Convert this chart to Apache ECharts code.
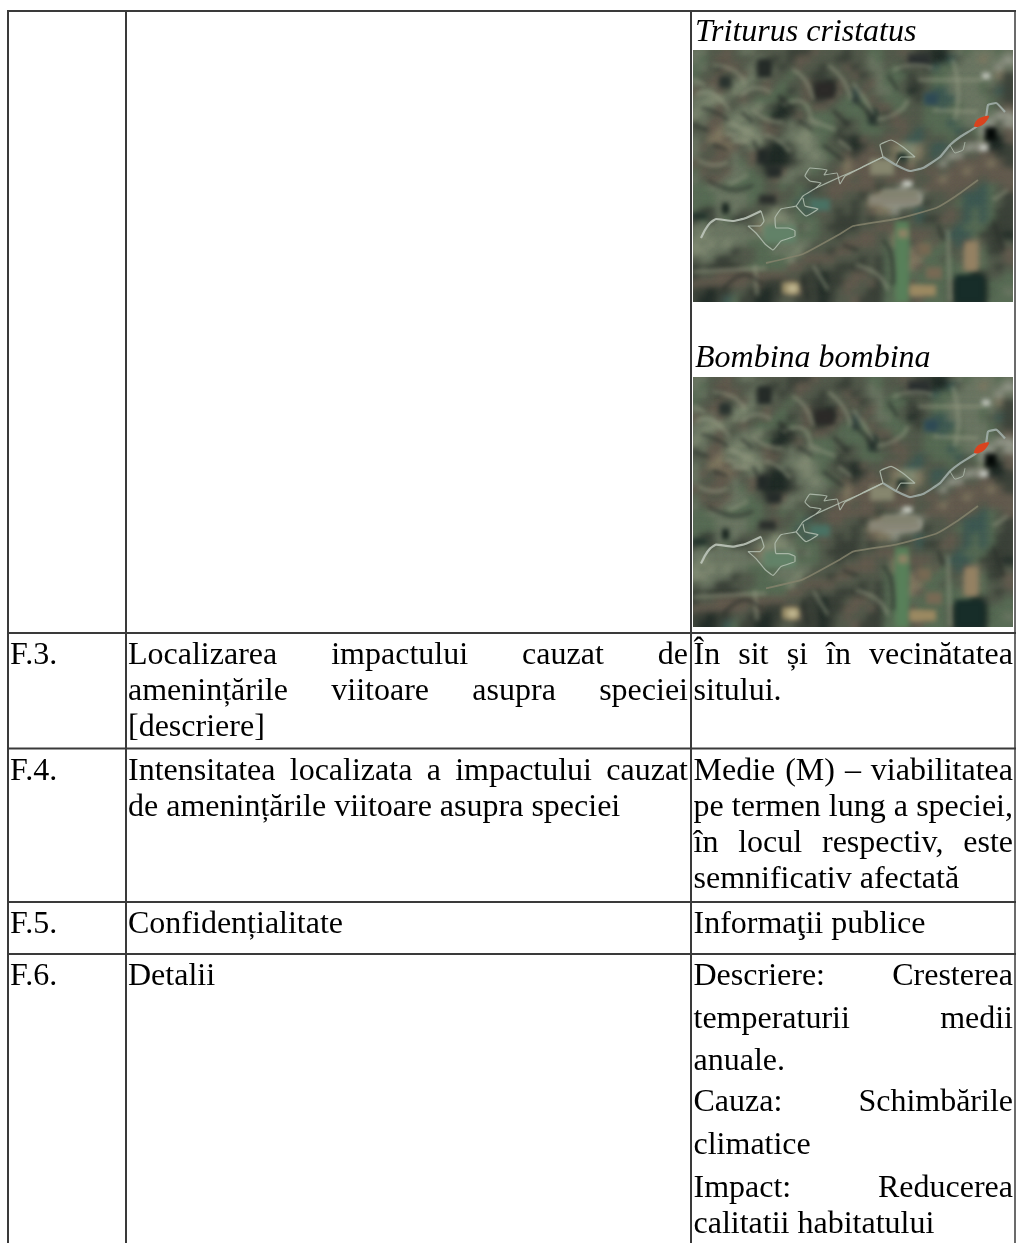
<!DOCTYPE html>
<html><head><meta charset="utf-8">
<style>html,body{margin:0;padding:0;background:#fff}#c{width:1016px;height:1243px}</style>
<script src="https://cdn.jsdelivr.net/npm/echarts@6/dist/echarts.min.js"></script>
</head><body><div id="c"></div>
<script>
// ---- table content: [text, justified?, baseline] ----
const col1Lines = [["F.3.",666],["F.4.",782],["F.5.",935],["F.6.",987]];
const col2Lines = [
 ["Localizarea impactului cauzat de",1,666],
 ["amenințările viitoare asupra speciei",1,702.5],
 ["[descriere]",0,738],
 ["Intensitatea localizata a impactului cauzat",1,782],
 ["de amenințările viitoare asupra speciei",0,818],
 ["Confidențialitate",0,935],
 ["Detalii",0,987]
];
const col3Lines = [
 ["În sit și în vecinătatea",1,666],
 ["sitului.",0,702.5],
 ["Medie (M) – viabilitatea",1,782],
 ["pe termen lung a speciei,",1,818],
 ["în locul respectiv, este",1,854],
 ["semnificativ afectată",0,890],
 ["Informaţii publice",0,935],
 ["Descriere: Cresterea",1,987],
 ["temperaturii medii",1,1030],
 ["anuale.",0,1072],
 ["Cauza: Schimbările",1,1113],
 ["climatice",0,1156],
 ["Impact: Reducerea",1,1199],
 ["calitatii habitatului",0,1235]
];
const speciesLabels = [["Triturus cristatus",43],["Bombina bombina",369]];
const rowLines = [11,633,748.5,902,954];
const colLines = [8,126,691,1015];

// ---- satellite picture read by eye: one letter per 8x8 px patch ----
const palette = {k:"#202b27",d:"#3b4139",m:"#545b4d",g:"#596d56",h:"#6d7865",l:"#858f77",t:"#847b64",b:"#655c50",s:"#3e5a54",w:"#989b8e"};
const photoRows = [
"hhmmbmhhmmmmdddbmmmdmmggmmbmddkkmhghhhgh",
"hgmbbmmmhmdmdbbmmmddmmhgmmmbddkksmhhthhw",
"ghmdbbmhmmmdmbmmdmmbdmhhmgdmmdsgghhhhhwh",
"gmmbmmbhhlmmgmmddmmmbdmhgggdmmgghhhhhhtd",
"hmbbmhlhmbmgmmbddkbmmmbhggmddmgghhhhghmd",
"bhhbmlhmmbggdmbdkkbmmbmhhgmkdmsshhhhgmsd",
"hhllhmbmgggdgmbddbmgggbmgggmdgssshhhhgmd",
"hlhbmmhhlmdkdmgbbmggggmbbggmmggsgghhhgmb",
"lhmbhhlhmgkkdbmgggmgggmmdbmmmgggghhhhhww",
"mhbbhlhhmbdmhmhhggmdmggmmbbmmgggsghhwwmw",
"mmbthhllhbbmhhlgggdmmgggmmbmsmgggsmgwwmb",
"hmttbhlllmdhhllhgmddkbmmbbmssmmmgmmmlkkb",
"hbmbtbmhhdkkmhlhgmmdkdbmmtlltmssmmwwbkkd",
"hmmbbhmbbkkkdhhlhgmbdbbbmtlltmsmwwmmbbdd",
"bmbbmhgbmkkkdmhhhmmtbbbbmbdtmmmwmbbbbtbd",
"gbmmbhhgmddbhhhgmmbtbbbbmbbbmbbmbbtbbbbb",
"hmbbhhgggmbhhmmmmmbbmbbmbbbbmmbtbbbbmbbb",
"gghhgggggmmgmgmdmbbbbbbdmmwmmbbbbbbmsgmb",
"ggghhhhggmbmmgsmmbbmmdmtwwwwwmmmbmsssgmd",
"ggghhhhgmmmmgsgmmmmmdmttwwwwmdmmmgsssgmd",
"gddhhhmmmmlhmgsmbmdmdmbttwmmsmmmbmsgsgdd",
"dgdhgddmhlllhgggmmdddmdmmmdmsddbbmsgsgdd",
"hhhhhhhmtlhhlmhgmddddmmbbbbmmmmmmsgggddd",
"hlhhhhhhhlhlhgggmmdmmbbmmtbbbbmmsssgdddk",
"lhlhlhhgggghhhhmmmmbbbbmgtgmbgbgmsbtmddm",
"llhhhdmmgghhhlmmmdbbmmmmgggtbgggmmttgddb",
"mhhddmmmgggglmbbbbmmmdmdggbttggmgmttgmmb",
"dmddddmgggggbbmdmmddddmdggttbgggggttgmdm",
"dmmbbbbbbbbbmmddkddmbbmdgggggggggggkdmmg",
"bbbbbbbmbdddbdddkddbbmbdgggbggggmkkkkggg",
"ddkddmmddkddtbddkdmbmmddggtttbggmkkkkggh",
"dkkdsgddkkdmmdddkdmmbdddggbmbgggmkkkkggg"
];
// soft patches in picture pixels: x, y, w, h, colour
const patches = [
 [65,10,13,17,"#252b28"],[123,33,17,14,"#2c2a28"],[27,27,10,10,"#2a332f"],[65,100,10,13,"#232a28"],[75,117,12,9,"#262c2a"],
 [30,154,5,9,"#16221d"],[0,164,13,4,"#20302a"],[67,146,15,7,"#2b2f2c"],[232,44,12,10,"#2f4a55"],[216,5,20,10,"#2b3030"],
 [293,78,10,12,"#050a08"],[290,24,6,4,"#c9ccc4"],[287,95,7,5,"#c4c8c0"],[205,104,8,6,"#1f2f28"],[211,132,7,4,"#cfd3ca"],[220,147,6,4,"#b9c8c0"],
 [177,146,50,8,"#8a8778"],[190,141,34,6,"#82826f"],[203,172,12,80,"#58805a"],[206,180,8,7,"#8f8366"],[273,193,10,26,"#958263"],
 [218,236,24,9,"#9c8a62"],[263,226,27,26,"#172d29"],[226,194,11,10,"#776953"],[234,218,14,10,"#786a55"],[90,233,15,10,"#9a8e68"],[96,236,7,5,"#c4ba94"],
 [178,110,22,14,"#87876f"],[160,38,6,14,"#3a4b45"],[176,60,8,14,"#2b3a33"],[118,150,18,10,"#4a7264"],[72,176,30,16,"#628268"]
];
const ridgeLight = [
 [[3,45],[14,42],[28,50],[36,60]],[[20,15],[40,20],[52,33]],[[35,72],[48,78],[58,82]],[[33,84],[44,86]],[[40,90],[56,92]],
 [[72,85],[85,90],[97,102]],[[117,70],[143,80]],[[48,45],[62,38],[78,42]],[[100,20],[112,30],[120,50]],[[90,55],[110,52],[118,70]],
 [[135,15],[150,30],[158,50]],[[0,30],[12,35]],[[60,60],[75,70],[90,72]],[[5,110],[20,115],[35,112]],[[145,90],[158,100]],
 [[160,33],[172,50],[180,65]],[[183,70],[205,62],[215,50]],[[200,20],[220,15],[240,18]],[[260,10],[265,40],[262,70]],[[225,30],[290,30]],[[240,60],[285,62]],
 [[0,222],[73,218]],[[255,180],[257,252]],[[163,215],[185,225],[195,240]],[[62,215],[64,245]],[[120,215],[135,240]],[[300,150],[315,140]],[[35,135],[55,125]]
];
const ridgeDark = [
 [[160,48],[175,62],[183,72]],[[195,25],[205,40]],[[8,58],[22,62],[35,70]],[[48,62],[60,72]],[[85,45],[100,60]],[[105,70],[120,80]],
 [[60,90],[65,100]],[[140,60],[155,75]],[[15,130],[40,140],[60,135]],[[30,240],[50,225],[70,235]],[[190,190],[198,205],[200,235]],
 [[130,95],[150,110]],[[20,95],[35,100]],[[0,75],[15,80]],[[110,225],[115,250]],[[150,195],[165,200]],[[300,170],[310,200]],[[245,175],[250,190]]
];
// river / site outline, in picture pixels
const riverMain = [[8,188],[12,180],[17,173],[23,169],[40,171],[53,168],[68,161]];
const riverLoopA = [[68,161],[71,171],[67,176],[55,176],[63,183],[72,194],[80,200],[88,191],[102,186],[102,181],[95,178],[83,178],[82,168],[88,159],[103,156],[110,146],[123,138],[128,133],[117,131],[112,126],[117,118],[134,120],[131,125],[144,123],[147,134],[152,126],[160,122],[173,115],[190,107]];
const riverLoopB = [[103,156],[113,166],[125,159],[112,156],[110,148]];
const riverLoopC = [[123,138],[147,127],[170,117],[190,107]];
const riverUpper = [[190,107],[187,95],[198,90],[210,97],[222,107],[208,107],[203,115]];
const riverEast = [[190,107],[203,115],[217,121],[230,118],[247,107],[257,95],[267,87],[283,77],[293,67],[295,55],[303,53],[312,62]];
const riverSide = [[257,95],[262,103],[270,100],[272,92]];
const roadLine = [[73,213],[110,204],[147,184],[160,176],[203,169],[243,158],[263,146],[285,130]];
const redPatch = [[281,76],[285,69],[296,66],[292,73],[285,77]];

const FS = 32, FONT = FS+'px "Liberation Serif"';
const ctx = document.createElement('canvas').getContext('2d');
ctx.font = FONT;
const BASE_SHIFT = 0.3375*FS;
function wordEls(lines, left, right){
  const out=[];
  lines.forEach(([t,j,y])=>{
    if(!j){ out.push(txt(t,left,y)); return; }
    const ws=t.split(' '), w=ws.map(s=>ctx.measureText(s).width);
    const gap=(right-left-w.reduce((a,b)=>a+b,0))/(ws.length-1);
    let x=left;
    ws.forEach((s,i)=>{out.push(txt(s,x,y)); x+=w[i]+gap;});
  });
  return out;
}
function txt(t,x,y,font){
  return {type:'text',z:10,silent:true,style:{text:t,x:x,y:y-BASE_SHIFT,font:font||FONT,fill:'#000',verticalAlign:'middle',align:'left'}};
}
const graphic=[];
const LC='#3a3a3a',LW=2;
rowLines.forEach(y=>graphic.push({type:'line',z:9,silent:true,shape:{x1:8,y1:y,x2:1016,y2:y},style:{stroke:LC,lineWidth:LW}}));
colLines.forEach(x=>graphic.push({type:'line',z:9,silent:true,shape:{x1:x,y1:10,x2:x,y2:1243},style:{stroke:LC,lineWidth:x===1015?1.5:LW}}));
col1Lines.forEach(([t,y])=>graphic.push(txt(t,10,y)));
graphic.push(...wordEls(col2Lines,128,688));
graphic.push(...wordEls(col3Lines,693.5,1013));
speciesLabels.forEach(([t,y])=>graphic.push(txt(t,695,y,'italic '+FONT)));

const cells=[];
photoRows.forEach((row,r)=>{row.padEnd(40,'m').slice(0,40).split('').forEach((ch,c)=>cells.push([c*8,r*8,palette[ch]]));});

const OFF=3000;
function softRect(api,x,y,w,h,col,blur,pad){
  const a=api.coord([x,y]),b=api.coord([x+w,y+h]);
  return {type:'rect',shape:{x:a[0]-pad-OFF,y:a[1]-pad,width:b[0]-a[0]+2*pad,height:b[1]-a[1]+2*pad},style:{fill:col,shadowBlur:blur,shadowColor:col,shadowOffsetX:OFF}};
}
function photoSeries(i){
  const common={xAxisIndex:i,yAxisIndex:i,animation:false,silent:true};
  const ln=(d,col,w)=>Object.assign({type:'line',data:d,showSymbol:false,smooth:0.12,clip:true,lineStyle:{color:col,width:w,opacity:0.85},z:5},common);
  const strokes=(list,col,w,z,op)=>Object.assign({type:'custom',data:list.map((_,k)=>k),clip:true,z:z,
     renderItem:(p,api)=>({type:'polyline',shape:{points:list[p.dataIndex].map(q=>{const c=api.coord(q);return [c[0]-OFF,c[1]];}),smooth:0.5},style:{fill:null,stroke:col,lineWidth:w,opacity:op,shadowBlur:4,shadowColor:col,shadowOffsetX:OFF}})},common);
  return [
    Object.assign({type:'custom',data:cells.map((_,k)=>k),clip:true,progressive:0,z:2,
      renderItem:(p,api)=>{const q=cells[p.dataIndex];return softRect(api,q[0],q[1],8,8,q[2],7,2);}},common),
    Object.assign({type:'custom',data:patches.map((_,k)=>k),clip:true,progressive:0,z:3,
      renderItem:(p,api)=>{const q=patches[p.dataIndex];return softRect(api,q[0],q[1],q[2],q[3],q[4],5,1);}},common),
    strokes(ridgeLight,'#989e86',2.5,4,0.7),
    strokes(ridgeDark,'#262c28',3,4,0.7),
    ln(roadLine,'#85826c',1.8),
    ln(riverMain,'#c2cabf',2.2),
    ln(riverLoopA,'#b4c0b2',1.2),
    ln(riverLoopB,'#b4c0b2',1.2),
    ln(riverLoopC,'#b4c0b2',1.2),
    ln(riverUpper,'#b4c0b2',1.2),
    ln(riverEast,'#a5b2ad',2.2),
    ln(riverSide,'#b4c0b2',1),
    Object.assign({type:'custom',data:[0],clip:true,z:6,renderItem:(p,api)=>({type:'polygon',shape:{points:redPatch.map(q=>api.coord(q)),smooth:0.3},style:{fill:'#d9431e'}})},common)
  ];
}
const ax=(m,g)=>({type:'value',gridIndex:g,min:0,max:m,show:false});
const chart=echarts.init(document.getElementById('c'),null,{renderer:'canvas'});
chart.setOption({
  animation:false,backgroundColor:'#fff',
  grid:[{left:693,top:50,width:320,height:252,show:true,backgroundColor:'#5a6250',borderWidth:0},
        {left:693,top:377,width:320,height:250,show:true,backgroundColor:'#5a6250',borderWidth:0}],
  xAxis:[ax(320,0),ax(320,1)],
  yAxis:[Object.assign(ax(252,0),{inverse:true}),Object.assign(ax(252,1),{inverse:true})],
  series:[...photoSeries(0),...photoSeries(1)],
  graphic:{elements:graphic}
});
</script></body></html>
